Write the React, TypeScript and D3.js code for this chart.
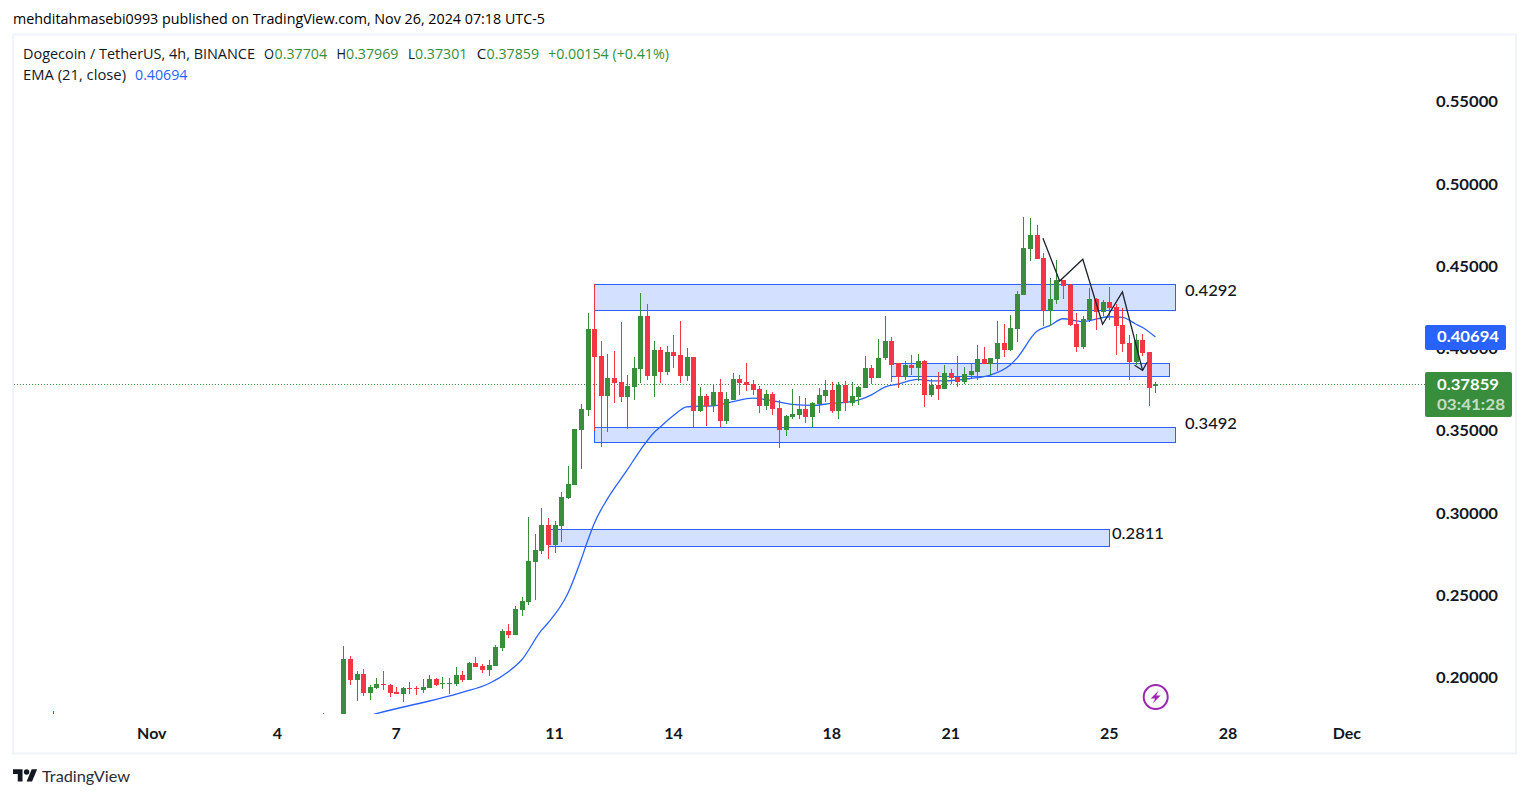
import React from "react";
import * as d3 from "d3";

const candleOpen = [
  .1750,.2112,.1985,.2021,.1906,.1936,.1960,.1954,.1912,.1900,
  .1936,.1936,.1924,.1936,.1991,.1960,.1960,.1960,.2015,.1985,
  .2088,.2070,.2046,.2070,.2179,.2282,.2258,.2410,.2459,.2702,
  .2769,.2927,.2805,.2921,.3091,.3170,.3504,.3625,.4118,.3954,
  .3710,.3820,.3796,.3704,.3765,.3875,.4197,.3832,.3990,.3856,
  .3978,.3960,.3832,.3948,.3619,.3710,.3650,.3735,.3559,.3686,
  .3814,.3796,.3783,.3753,.3650,.3723,.3638,.3504,.3583,.3595,
  .3631,.3583,.3662,.3710,.3747,.3619,.3777,.3668,.3704,.3759,
  .3881,.3820,.3941,.4045,.3911,.3826,.3899,.3881,.3923,.3717,
  .3777,.3753,.3850,.3826,.3796,.3838,.3856,.3935,.3905,.3935,
  .4033,.3990,.4118,.4324,.4604,.4689,.4549,.4227,.4294,.4415,
  .4385,.4148,.4008,.4172,.4300,.4221,.4282,.4251,.4142,.4033,
  .3917,.4051,.3978,.37704,
];
const candleClose = [
  .2112,.1985,.2021,.1906,.1942,.1960,.1954,.1906,.1900,.1936,
  .1930,.1930,.1942,.1991,.1954,.1967,.1967,.2015,.1985,.2088,
  .2064,.2046,.2076,.2185,.2282,.2258,.2416,.2465,.2708,.2775,
  .2927,.2805,.2927,.3097,.3176,.3510,.3631,.4118,.3948,.3710,
  .3820,.3790,.3704,.3771,.3881,.4197,.3832,.3990,.3856,.3978,
  .3954,.3832,.3948,.3619,.3710,.3650,.3735,.3559,.3692,.3814,
  .3790,.3777,.3747,.3650,.3723,.3631,.3504,.3589,.3601,.3631,
  .3583,.3668,.3717,.3747,.3619,.3777,.3668,.3710,.3765,.3881,
  .3820,.3941,.4045,.3899,.3826,.3899,.3881,.3923,.3717,.3777,
  .3753,.3850,.3820,.3796,.3844,.3862,.3935,.3905,.3941,.4033,
  .3990,.4124,.4330,.4610,.4689,.4543,.4227,.4300,.4415,.4379,
  .4142,.4008,.4178,.4300,.4221,.4282,.4245,.4136,.4026,.3917,
  .4051,.3972,.3759,.37859,
];
const candleHigh = [
  .2191,.2131,.2039,.2052,.1954,.1997,.2039,.1960,.1942,.1942,
  .1973,.1948,.1991,.2015,.1997,.2003,.1997,.2064,.2039,.2094,
  .2125,.2082,.2106,.2197,.2295,.2325,.2434,.2489,.2975,.2872,
  .3030,.2969,.2951,.3127,.3285,.3512,.3662,.4215,.4391,.4045,
  .3966,.3984,.4160,.3838,.3948,.4336,.4270,.4045,.4008,.4014,
  .4081,.4166,.4002,.3948,.3765,.3723,.3777,.3814,.3735,.3850,
  .3838,.3911,.3808,.3771,.3747,.3735,.3686,.3595,.3753,.3710,
  .3698,.3674,.3759,.3808,.3796,.3796,.3802,.3796,.3771,.3954,
  .3899,.4057,.4197,.4069,.3911,.3923,.3960,.3966,.3929,.3814,
  .3856,.3899,.3875,.3954,.3887,.3905,.4020,.4008,.3941,.4166,
  .4148,.4203,.4349,.4798,.4792,.4750,.4579,.4428,.4537,.4415,
  .4391,.4215,.4197,.4367,.4306,.4294,.4373,.4270,.4245,.4081,
  .4087,.4087,.3978,.37969,
];
const candleLow = [
  .1720,.1954,.1857,.1888,.1863,.1930,.1924,.1881,.1900,.1851,
  .1900,.1894,.1906,.1936,.1948,.1930,.1900,.1948,.1973,.1985,
  .2064,.2027,.2009,.2070,.2161,.2240,.2258,.2374,.2441,.2471,
  .2750,.2720,.2757,.2823,.3085,.3170,.3267,.3589,.3498,.3401,
  .3492,.3668,.3674,.3510,.3686,.3790,.3808,.3704,.3790,.3838,
  .3881,.3790,.3802,.3522,.3613,.3528,.3613,.3522,.3540,.3686,
  .3717,.3741,.3717,.3607,.3625,.3595,.3394,.3467,.3571,.3571,
  .3546,.3522,.3607,.3674,.3607,.3571,.3619,.3650,.3656,.3759,
  .3783,.3820,.3929,.3796,.3759,.3808,.3838,.3802,.3644,.3704,
  .3686,.3753,.3783,.3765,.3783,.3814,.3808,.3905,.3838,.3862,
  .3948,.3984,.4039,.4324,.4531,.4543,.4136,.4136,.4270,.4300,
  .4136,.3978,.3996,.4160,.4112,.4197,.4172,.3960,.3978,.3808,
  .3899,.3954,.3650,.37301,
];

// Older candles: only the tips of their upper wicks reach into the pane.
const earlyIndex = [-44, -3];
const earlyHigh = [.1796, .1787];
const earlyUp = [false, true];

const emaIndex = [4,5,18,22,25,27,30,31,34,36,37,38,40,43,45,47,48,50,52,53,56,59,62,65,68,71,74,77,80,82,84,87,89,91,95,98,101,102,105,107,109,112,116,118,120,121,123];
const emaValue = [.1769,.1780,.1910,.1962,.2035,.2106,.2286,.2331,.2510,.2714,.2829,.2936,.3085,.3261,.3382,.3486,.3522,.3592,.3644,.3647,.3650,.3676,.3697,.3682,.3660,.3653,.3666,.3676,.3717,.3765,.3783,.3811,.3802,.3802,.3817,.3838,.3899,.3939,.4102,.4138,.4180,.4162,.4192,.4188,.4148,.4128,.40694];

const zoneStart = [38.03, 38.03, 31, 83];
const zoneEnd = [126, 126, 116, 125];
const zoneTop = [.43892, .35221, .29005, .39092];
const zoneBottom = [.42313, .34292, .27972, .38302];
const zoneLabels = ["0.4292", "0.3492", "0.2811", ""];

const zigzagIndex = [105.97, 108.5, 112, 115, 118, 121.06];
const zigzagValue = [.46687, .44093, .45411, .41462, .43424, .38667];

const priceTicks = [.55, .5, .45, .4, .35, .3, .25, .2];
const timeTickIndex = [-29, -10, 8, 32, 50, 74, 92, 116, 134, 152];
const timeTickLabels = ["Nov", "4", "7", "11", "14", "18", "21", "25", "28", "Dec"];

const lastClose = 0.37859;
const lastEma = 0.40694;

const GREEN = "#388e3c";
const RED = "#f23645";
const BLUE = "#2962ff";
const INK = "#131722";
const FONT = "'Open Sans', 'Noto Sans', sans-serif";
const AXISFONT = "Lato, 'Open Sans', sans-serif";

const y = d3.scaleLinear().domain([0.55, 0.2]).range([101.5, 677.5]);
const x = d3.scaleLinear().domain([0, 123]).range([343.3, 1155.4]);

function Fit({ at, width, base, fill, size = 14, weight = 400, family = FONT, opacity = 1, children }: any) {
  return (
    <text x={at} y={base} fill={fill} fontSize={size} fontWeight={weight} fontFamily={family} opacity={opacity}
      textLength={width} lengthAdjust="spacingAndGlyphs">{children}</text>
  );
}

export default function App() {
  const ema = d3.line<number>().x((_, i) => x(emaIndex[i])).y((v) => y(v)).curve(d3.curveMonotoneX)(emaValue) as string;
  const zig = d3.line<number>().x((_, i) => x(zigzagIndex[i])).y((v) => y(v))(zigzagValue) as string;
  const tipX = x(zigzagIndex[5]);
  const tipY = y(zigzagValue[5]);
  const closeY = Math.round(y(lastClose)) + 0.5;

  return (
    <svg width={1529} height={798} style={{ position: "absolute", left: 0, top: 0, display: "block", background: "#fff" }}>
      <defs>
        <clipPath id="pane"><rect x={14} y={35} width={1411} height={679} /></clipPath>
      </defs>

      <Fit at={13} width={532} base={24}>mehditahmasebi0993 published on TradingView.com, Nov 26, 2024 07:18 UTC-5</Fit>
      <rect x={13} y={34.5} width={1503} height={719} fill="none" stroke="#f0f3fa" strokeWidth={2} />

      {priceTicks.map((p) => (
        <Fit key={p} at={1436} width={62} base={y(p) + 5.8} fill={INK} size={16} weight={700} family={AXISFONT}>{p.toFixed(5)}</Fit>
      ))}

      <g clipPath="url(#pane)">
        <line x1={14} x2={1425} y1={closeY} y2={closeY} stroke={GREEN} strokeWidth={1} strokeDasharray="1 2" />

        {zoneStart.map((s, i) => {
          const left = Math.round(x(s)) + 0.5;
          const right = Math.round(x(zoneEnd[i])) + 0.5;
          const top = Math.round(y(zoneTop[i])) + 0.5;
          const bottom = Math.round(y(zoneBottom[i])) + 0.5;
          return <rect key={i} x={left} y={top} width={right - left} height={bottom - top} fill={BLUE} fillOpacity={0.2} stroke={BLUE} strokeWidth={1} />;
        })}

        <path d={ema} fill="none" stroke={BLUE} strokeWidth={1.3} />

        {earlyIndex.map((idx, i) => (
          <rect key={idx} x={Math.round(x(idx))} y={Math.round(y(earlyHigh[i]))} width={1} height={8} fill={earlyUp[i] ? GREEN : RED} />
        ))}

        {candleOpen.map((o, i) => {
          const c = candleClose[i];
          const color = c >= o ? GREEN : RED;
          const cx = Math.round(x(i));
          const top = Math.round(y(Math.max(o, c)));
          const bottom = Math.round(y(Math.min(o, c)));
          const hi = Math.round(y(candleHigh[i]));
          const lo = Math.round(y(candleLow[i]));
          return (
            <g key={i} shapeRendering="crispEdges">
              <rect x={cx} y={hi} width={1} height={Math.max(1, lo - hi)} fill={color} />
              <rect x={cx - 2} y={top} width={5} height={Math.max(1, bottom - top)} fill={color} />
            </g>
          );
        })}

        <path d={zig} fill="none" stroke="#1e222d" strokeWidth={1.3} />
        <path d={`M${tipX - 8},${tipY - 5} L${tipX},${tipY} L${tipX + 4.5},${tipY - 8}`} fill="none" stroke="#1e222d" strokeWidth={1.3} />
      </g>

      {zoneLabels.map((label, i) =>
        label ? (
          <text key={label} x={i === 2 ? 1112 : 1185} y={i === 2 ? 538.5 : i === 0 ? 295.5 : 428.5} fill={INK} fontSize={16} fontWeight={500} fontFamily={AXISFONT}
            textLength={52} lengthAdjust="spacingAndGlyphs">{label}</text>
        ) : null
      )}

      {timeTickLabels.map((t, i) => (
        <text key={t} x={x(timeTickIndex[i])} y={739} textAnchor="middle" fill={INK} fontSize={16} fontWeight={700} fontFamily={AXISFONT}>{t}</text>
      ))}

      <Fit at={23} width={232} base={59} fill={INK}>Dogecoin / TetherUS, 4h, BINANCE</Fit>
      <Fit at={264} width={10} base={59} fill={INK}>O</Fit>
      <Fit at={274.6} width={52.5} base={59} fill={GREEN}>0.37704</Fit>
      <Fit at={336.6} width={9.5} base={59} fill={INK}>H</Fit>
      <Fit at={346} width={52.5} base={59} fill={GREEN}>0.37969</Fit>
      <Fit at={408} width={7} base={59} fill={INK}>L</Fit>
      <Fit at={415} width={52.5} base={59} fill={GREEN}>0.37301</Fit>
      <Fit at={476.8} width={9.5} base={59} fill={INK}>C</Fit>
      <Fit at={486.6} width={52.5} base={59} fill={GREEN}>0.37859</Fit>
      <Fit at={548} width={121} base={59} fill={GREEN}>+0.00154 (+0.41%)</Fit>
      <Fit at={23} width={103} base={80} fill={INK}>EMA (21, close)</Fit>
      <Fit at={135} width={52.5} base={80} fill={BLUE}>{lastEma.toFixed(5)}</Fit>

      <rect x={1425} y={Math.round(y(lastEma)) - 12} width={81} height={25} rx={2} fill={BLUE} />
      <Fit at={1437} width={62} base={y(lastEma) + 5.5} fill="#fff" size={16} weight={700} family={AXISFONT}>{lastEma.toFixed(5)}</Fit>

      <rect x={1425} y={372} width={87} height={45} rx={2} fill={GREEN} />
      <Fit at={1437} width={62} base={390} fill="#fff" size={16} weight={700} family={AXISFONT}>{lastClose.toFixed(5)}</Fit>
      <Fit at={1437} width={68} base={410} fill="#fff" size={16} weight={700} family={AXISFONT} opacity={0.7}>03:41:28</Fit>

      <g transform="translate(1155.7,697)">
        <circle r={12} fill="none" stroke="#9c27b0" strokeWidth={2} />
        <polygon points="3,-6.5 -5,1.5 -0.5,1.5 -3,6.5 5,-1.5 0.5,-1.5" fill="#9c27b0" />
      </g>

      <g transform="translate(13,766.6) scale(0.68)" fill="#131722">
        <path d="M14 22H7V11H0V4h14v18zM28 22h-8l7.5-18h8L28 22z" />
        <circle cx={20} cy={8} r={4} />
      </g>
      <Fit at={42} width={88} base={782} fill="#2a2e39" size={15} family="Lato, sans-serif">TradingView</Fit>
    </svg>
  );
}
